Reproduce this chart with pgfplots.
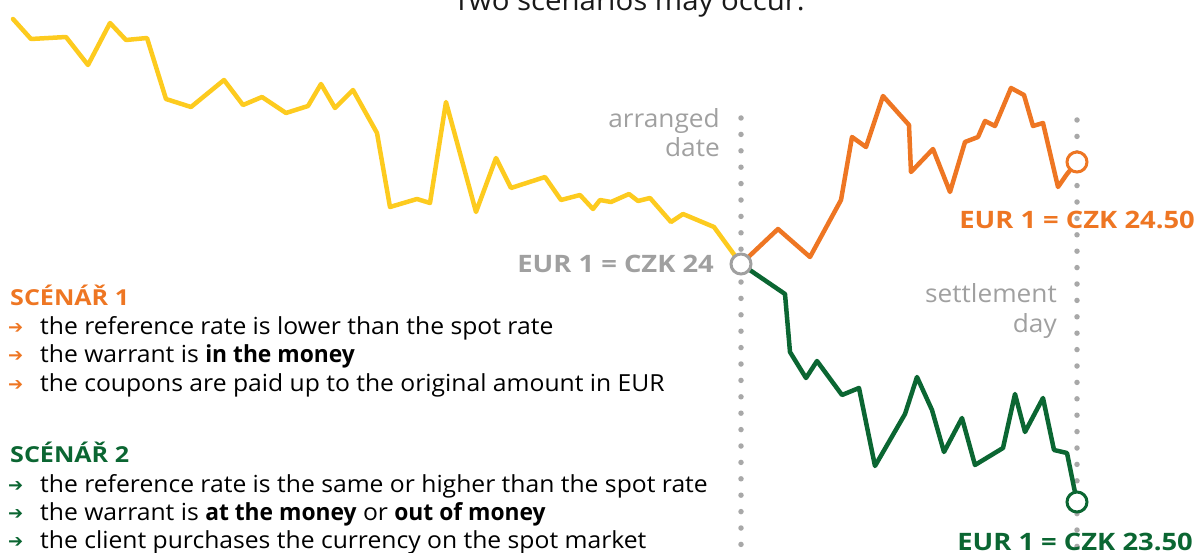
\documentclass[border=0pt]{standalone}
\usepackage{fontspec}
\setmainfont{Open Sans}[FakeStretch=1.05, BoldFeatures={FakeStretch=0.97}]
\newfontfamily\labfont{Open Sans}[FakeStretch=1.14]
\newfontfamily\symfont{DejaVu Sans}
\usepackage{pgfplots}
\pgfplotsset{compat=1.18}
\definecolor{cyellow}{HTML}{FDCB1F}
\definecolor{corange}{HTML}{EE7623}
\definecolor{cgreen}{HTML}{0B6632}
\definecolor{cgray}{HTML}{A0A0A0}
\definecolor{cdot}{HTML}{A8A8A8}
\newcommand{\fs}{\fontsize{23.5bp}{27bp}\selectfont}
\newcommand{\gs}{\fontsize{25bp}{28bp}\selectfont}
\newcommand{\ls}{\labfont\bfseries\fontsize{24bp}{28bp}\selectfont}
\newcommand{\hs}{\labfont\bfseries\fontsize{22bp}{26bp}\selectfont}
\newcommand{\arr}[1]{{\color{#1}\symfont\fontsize{18bp}{20bp}\selectfont ➔}}
\begin{document}
\begin{tikzpicture}
\clip (0,0) rectangle (1199bp,553bp);
\begin{axis}[
  width=1199bp, height=553bp, scale only axis,
  xmin=0, xmax=1199, ymin=0, ymax=553, y dir=reverse,
  hide axis, clip=false,
]
% dotted vertical lines
\addplot[cdot, line width=5.5bp, line cap=round, dash pattern=on 0pt off 16.4bp] coordinates {(741,118) (741,560)};
\addplot[cdot, line width=5.5bp, line cap=round, dash pattern=on 0pt off 16.4bp] coordinates {(1077,120) (1077,560)};
% yellow history
\addplot[cyellow, line width=4.5bp, line join=round, line cap=round] coordinates {
(13,19)(31,39)(66,37)(88,65)(110,23)(126,40)(147,38)(166,99)(191,107)(224,80)(243,105)(262,97)(286,113)(308,106)(321,84)(335,108)(353,90)(377,133)(390,207)(417,199)(430,203)(446,102)(476,212)(496,158)(511,188)(545,177)(561,200)(580,195)(593,209)(600,200)(611,202)(629,194)(638,201)(650,198)(671,222)(683,214)(714,227)(741,264)};
% orange scenario
\addplot[corange, line width=4.5bp, line join=round, line cap=round] coordinates {
(741,264)(778,229)(810,257)(841,200)(852,137)(866,147)(883,96)(909,125)(911,172)(933,149)(950,192)(965,142)(978,137)(985,121)(995,126)(1011,88)(1024,95)(1033,126)(1043,123)(1058,187)(1067,174)(1077,162)};
% green scenario
\addplot[cgreen, line width=4.5bp, line join=round, line cap=round] coordinates {
(741,264)(785,294)(790,352)(806,378)(817,361)(842,395)(859,388)(875,466)(905,414)(917,377)(932,410)(944,452)(962,418)(975,465)(1003,448)(1015,394)(1025,432)(1043,398)(1054,450)(1067,453)(1077,502)};
% end circles
\addplot[only marks, mark=*, mark size=10bp, mark options={draw=cgray, fill=white, line width=3bp}] coordinates {(741,264)};
\addplot[only marks, mark=*, mark size=10bp, mark options={draw=corange, fill=white, line width=3bp}] coordinates {(1077,162)};
\addplot[only marks, mark=*, mark size=10bp, mark options={draw=cgreen, fill=white, line width=3bp}] coordinates {(1077,502)};
% texts
\node[anchor=base, font=\fontsize{28bp}{30bp}\selectfont, text=black!90, inner sep=0pt] at (axis cs:629,10.5) {Two scenarios may occur:};
\node[anchor=base east, font=\gs, text=cgray, inner sep=0pt] at (axis cs:720,127) {arranged};
\node[anchor=base east, font=\gs, text=cgray, inner sep=0pt] at (axis cs:720,156) {date};
\node[anchor=base east, font=\gs, text=cgray, inner sep=0pt] at (axis cs:1057,302) {settlement};
\node[anchor=base east, font=\gs, text=cgray, inner sep=0pt] at (axis cs:1057,332) {day};
\node[anchor=base east, font=\ls, text=cgray, inner sep=0pt] at (axis cs:714,272) {EUR 1 = CZK 24};
\node[anchor=base east, font=\ls, text=corange, inner sep=0pt] at (axis cs:1195,228) {EUR 1 = CZK 24.50};
\node[anchor=base east, font=\ls, text=cgreen, inner sep=0pt] at (axis cs:1193,550) {EUR 1 = CZK 23.50};
% scenario 1
\node[anchor=base west, font=\hs, text=corange, inner sep=0pt] at (axis cs:10,305) {SCÉNÁŘ 1};
\node[anchor=base west, inner sep=0pt] at (axis cs:8,333) {\arr{corange}};
\node[anchor=base west, inner sep=0pt] at (axis cs:8,361) {\arr{corange}};
\node[anchor=base west, inner sep=0pt] at (axis cs:8,390) {\arr{corange}};
\node[anchor=base west, font=\fs, inner sep=0pt] at (axis cs:40,334) {the reference rate is lower than the spot rate};
\node[anchor=base west, font=\fs, inner sep=0pt] at (axis cs:40,362) {the warrant is \textbf{in the money}};
\node[anchor=base west, font=\fs, inner sep=0pt] at (axis cs:40,391) {the coupons are paid up to the original amount in EUR};
% scenario 2
\node[anchor=base west, font=\hs, text=cgreen, inner sep=0pt] at (axis cs:10,462) {SCÉNÁŘ 2};
\node[anchor=base west, inner sep=0pt] at (axis cs:8,491) {\arr{cgreen}};
\node[anchor=base west, inner sep=0pt] at (axis cs:8,519) {\arr{cgreen}};
\node[anchor=base west, inner sep=0pt] at (axis cs:8,547) {\arr{cgreen}};
\node[anchor=base west, font=\fs, inner sep=0pt] at (axis cs:40,492) {the reference rate is the same or higher than the spot rate};
\node[anchor=base west, font=\fs, inner sep=0pt] at (axis cs:40,520) {the warrant is \textbf{at the money} or \textbf{out of money}};
\node[anchor=base west, font=\fs, inner sep=0pt] at (axis cs:40,548) {the client purchases the currency on the spot market};
\end{axis}
\end{tikzpicture}
\end{document}
